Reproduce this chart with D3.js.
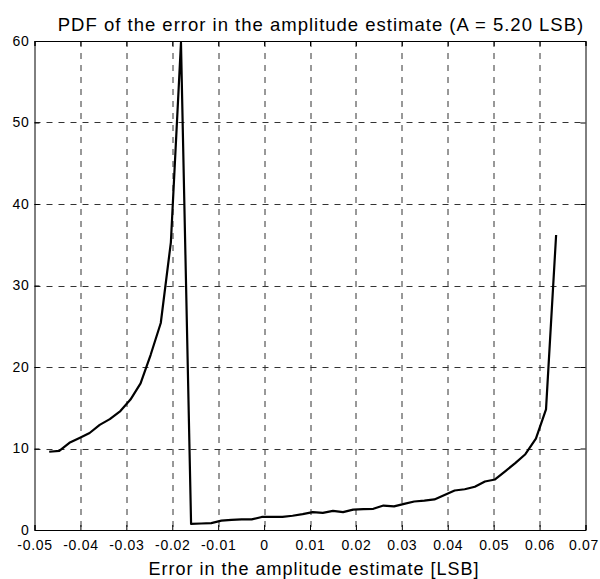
<!DOCTYPE html>
<html>
<head>
<meta charset="utf-8">
<script src="https://cdn.jsdelivr.net/npm/d3@7"></script>
<style>
  body { margin: 0; background: #fff; }
  svg { font-family: "Liberation Sans", Arial, sans-serif; }
</style>
</head>
<body>
<div id="chart"></div>
<script>
// error in the amplitude estimate [LSB]
const errVals = [
  -0.0468, -0.0446, -0.0424, -0.0402, -0.0380, -0.0358, -0.0336, -0.0313, -0.0291, -0.0269,
  -0.0247, -0.0225, -0.0203, -0.0181, -0.0159, -0.0137, -0.0115, -0.0093, -0.0071, -0.0049,
  -0.0027, -0.0005, 0.0018, 0.0040, 0.0062, 0.0084, 0.0106, 0.0128, 0.0150, 0.0172,
  0.0194, 0.0216, 0.0238, 0.0260, 0.0283, 0.0305, 0.0327, 0.0349, 0.0371, 0.0393,
  0.0415, 0.0437, 0.0459, 0.0481, 0.0503, 0.0525, 0.0547, 0.0569, 0.0592, 0.0614,
  0.0636
];
// pdf values
const pdfVals = [
  9.6, 9.7, 10.7, 11.3, 11.9, 12.9, 13.6, 14.6, 16.0, 18.0,
  21.5, 25.4, 35.3, 59.8, 0.75, 0.8, 0.85, 1.15, 1.25, 1.3,
  1.3, 1.6, 1.6, 1.6, 1.75, 1.95, 2.2, 2.1, 2.35, 2.2,
  2.5, 2.55, 2.6, 3.0, 2.9, 3.2, 3.5, 3.6, 3.75, 4.3,
  4.85, 5.0, 5.3, 5.95, 6.2, 7.2, 8.2, 9.3, 11.2, 14.8,
  36.2
];
const xTicks = [-0.05, -0.04, -0.03, -0.02, -0.01, 0, 0.01, 0.02, 0.03, 0.04, 0.05, 0.06, 0.07];
const yTicks = [0, 10, 20, 30, 40, 50, 60];
const titleText = "PDF of the error in the amplitude estimate (A = 5.20 LSB)";
const xLabelText = "Error in the amplitude estimate [LSB]";

const data = errVals.map((e, i) => ({x: e, y: pdfVals[i]}));

const W = 600, H = 579;
const margin = {top: 41, right: 14.5, bottom: 49, left: 34.5};
const width = W - margin.left - margin.right;
const height = H - margin.top - margin.bottom;

const svg = d3.select("#chart").append("svg")
    .attr("width", W)
    .attr("height", H);

const g = svg.append("g")
    .attr("transform", "translate(" + margin.left + "," + margin.top + ")");

const x = d3.scaleLinear().domain([-0.05, 0.07]).range([0, width]);
const y = d3.scaleLinear().domain([0, 60]).range([height, 0]);

// dashed grid
g.append("g").selectAll("line")
    .data(xTicks.slice(1, -1))
    .enter().append("line")
    .attr("x1", d => Math.round(x(d)) + 0.5).attr("x2", d => Math.round(x(d)) + 0.5)
    .attr("y1", 0).attr("y2", height)
    .attr("stroke", "#333").attr("stroke-dasharray", "6,6");

g.append("g").selectAll("line")
    .data(yTicks.slice(1, -1))
    .enter().append("line")
    .attr("y1", d => Math.round(y(d)) + 0.5).attr("y2", d => Math.round(y(d)) + 0.5)
    .attr("x1", 0).attr("x2", width)
    .attr("stroke", "#333").attr("stroke-dasharray", "6,6");

// axes with inner ticks on all four sides
const fmtX = d => d === 0 ? "0" : d3.format(".2f")(d).replace("\u2212", "-");
const xAxis = d3.axisBottom(x).tickValues(xTicks).tickSize(-5).tickPadding(10).tickFormat(fmtX);
const yAxis = d3.axisLeft(y).tickValues(yTicks).tickSize(-5).tickPadding(5).tickFormat(d3.format("d"));

const xg = g.append("g").attr("transform", "translate(0," + height + ")").call(xAxis);
g.append("g").call(yAxis);
g.append("g").call(d3.axisTop(x).tickValues(xTicks).tickSize(-5).tickFormat(""));
g.append("g").attr("transform", "translate(" + width + ",0)")
    .call(d3.axisRight(y).tickValues(yTicks).tickSize(-5).tickFormat(""));

g.selectAll(".domain").attr("stroke", "#000");
g.selectAll(".tick line").attr("stroke", "#000");
g.selectAll(".tick text").attr("fill", "#000")
    .style("font-size", "14px").style("letter-spacing", "0.7px");
// keep the last label inside the page
xg.selectAll(".tick text").filter(d => d === 0.07).attr("dx", -2);

// curve
g.append("path")
    .datum(data)
    .attr("fill", "none")
    .attr("stroke", "#000")
    .attr("stroke-width", 2.2)
    .attr("stroke-linejoin", "round")
    .attr("d", d3.line().x(d => x(d.x)).y(d => y(d.y)));

// title and x label
svg.append("text")
    .attr("x", 321)
    .attr("y", 31)
    .attr("text-anchor", "middle")
    .style("font-size", "18.5px")
    .style("letter-spacing", "1px")
    .text(titleText);

svg.append("text")
    .attr("x", 314)
    .attr("y", 575)
    .attr("text-anchor", "middle")
    .style("font-size", "18px")
    .style("letter-spacing", "1px")
    .text(xLabelText);
</script>
</body>
</html>
